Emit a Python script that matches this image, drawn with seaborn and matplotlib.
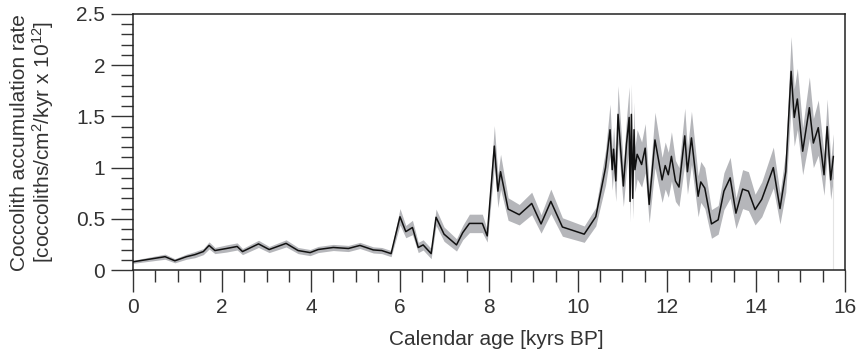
import numpy as np
import matplotlib
matplotlib.use("Agg")
import matplotlib.pyplot as plt
from matplotlib.ticker import MultipleLocator
import seaborn as sns

# Calendar age (kyrs BP) of each sample
age = [0.0, 0.72, 0.94, 1.2, 1.39, 1.58, 1.71, 1.84, 2.1, 2.34, 2.46, 2.82, 3.06,
       3.44, 3.71, 3.98, 4.16, 4.5, 4.84, 5.1, 5.4, 5.59, 5.8, 6.0, 6.13, 6.28,
       6.41, 6.52, 6.7, 6.81, 6.99, 7.27, 7.41, 7.56, 7.85, 7.96, 8.12, 8.2, 8.26,
       8.43, 8.68, 8.96, 9.17, 9.39, 9.65, 10.14, 10.4, 10.62, 10.72, 10.77, 10.8,
       10.85, 10.9, 11.02, 11.09, 11.15, 11.17, 11.2, 11.23, 11.26, 11.28, 11.33,
       11.43, 11.51, 11.6, 11.73, 11.89, 11.96, 12.03, 12.1, 12.19, 12.27, 12.4,
       12.46, 12.55, 12.7, 12.76, 12.85, 13.0, 13.15, 13.28, 13.42, 13.55, 13.7,
       13.83, 13.98, 14.13, 14.39, 14.54, 14.67, 14.79, 14.86, 14.93, 15.05, 15.2,
       15.29, 15.4, 15.53, 15.6, 15.68, 15.74]

# Coccolith accumulation rate (10^12 coccoliths/cm2/kyr)
rate = [0.08, 0.13, 0.09, 0.13, 0.15, 0.18, 0.24, 0.19, 0.21, 0.23, 0.18, 0.255, 0.20,
        0.26, 0.19, 0.17, 0.20, 0.22, 0.21, 0.24, 0.196, 0.19, 0.16, 0.52, 0.375, 0.415,
        0.22, 0.245, 0.16, 0.515, 0.35, 0.245, 0.365, 0.455, 0.455, 0.333, 1.21, 0.77, 0.96,
        0.595, 0.54, 0.65, 0.45, 0.67, 0.42, 0.35, 0.52, 1.0, 1.37, 0.98, 1.18,
        0.87, 1.52, 0.82, 1.23, 1.49, 0.67, 1.52, 0.70, 1.37, 0.98, 1.13,
        1.03, 1.19, 0.64, 1.27, 0.88, 1.02, 0.93, 1.11, 0.87, 0.81, 1.31,
        0.96, 1.29, 0.72, 0.86, 0.80, 0.45, 0.49, 0.77, 0.90, 0.555, 0.79,
        0.77, 0.59, 0.69, 1.0, 0.60, 0.96, 1.94, 1.49, 1.67, 1.16, 1.585,
        1.24, 1.39, 0.93, 1.40, 0.88, 1.11]

# Uncertainty (half-width of the shaded envelope)
err = [0.015, 0.025, 0.02, 0.025, 0.03, 0.03, 0.035, 0.03, 0.035, 0.035, 0.03, 0.035, 0.03,
       0.035, 0.03, 0.03, 0.03, 0.03, 0.03, 0.03, 0.03, 0.03, 0.03, 0.08, 0.06, 0.07,
       0.05, 0.05, 0.05, 0.08, 0.07, 0.06, 0.07, 0.09, 0.09, 0.06, 0.20, 0.16, 0.17,
       0.11, 0.10, 0.11, 0.09, 0.12, 0.09, 0.08, 0.09, 0.17, 0.25, 0.20, 0.22,
       0.20, 0.28, 0.20, 0.25, 0.30, 0.20, 0.30, 0.20, 0.27, 0.22, 0.24,
       0.22, 0.24, 0.18, 0.27, 0.22, 0.23, 0.22, 0.24, 0.20, 0.19, 0.27,
       0.22, 0.26, 0.20, 0.20, 0.20, 0.14, 0.14, 0.18, 0.20, 0.15, 0.19,
       0.19, 0.15, 0.17, 0.20, 0.15, 0.20, 0.34, 0.28, 0.30, 0.23, 0.30,
       0.24, 0.27, 0.20, 0.27, 0.19, 0.22]

x_ticks = [0, 2, 4, 6, 8, 10, 12, 14, 16]
y_ticks = [0, 0.5, 1, 1.5, 2, 2.5]
y_tick_labels = ["0", "0.5", "1", "1.5", "2", "2.5"]

sns.set_style("ticks")
plt.rcParams["font.family"] = ["Liberation Sans", "DejaVu Sans"]
plt.rcParams["mathtext.fontset"] = "custom"
plt.rcParams["mathtext.rm"] = "Liberation Sans"
plt.rcParams["mathtext.it"] = "Liberation Sans:italic"

TXT = "#333333"
fig = plt.figure(figsize=(8.56, 3.58), dpi=100)
ax = fig.add_axes([0.1554, 0.2458, 0.8317, 0.7151])

a = np.asarray(age)
r = np.asarray(rate)
e = np.asarray(err)
ax.fill_between(a, r - e, r + e, color="#b5b6ba", linewidth=0, zorder=1)
ax.vlines(a[-1], 0, r[-1] - e[-1], color="#e4e4e4", linewidth=0.8, zorder=1)
sns.lineplot(x=age, y=rate, color="#111111", linewidth=1.1, ax=ax, zorder=3,
             estimator=None, sort=False)

ax.set_xlim(0, 16)
ax.set_ylim(0, 2.5)
ax.set_xticks(x_ticks)
ax.set_xticklabels([str(t) for t in x_ticks])
ax.set_yticks(y_ticks)
ax.set_yticklabels(y_tick_labels)
ax.xaxis.set_minor_locator(MultipleLocator(0.5))
ax.yaxis.set_minor_locator(MultipleLocator(0.1))

for s in ax.spines.values():
    s.set_visible(True)
    s.set_linewidth(1.1)
    s.set_color("#222222")

ax.tick_params(which="major", direction="out", length=16, width=1.0,
               color="#333333", labelsize=15, labelcolor=TXT, pad=4)
ax.tick_params(which="minor", direction="out", length=8.5, width=1.0,
               color="#333333")

ax.set_xlabel("Calendar age [kyrs BP]", fontsize=15, color=TXT)
ax.xaxis.set_label_coords(0.51, -0.235)
ax.set_ylabel("")
fig.text(0.0385, 0.603,
         "Coccolith accumulation rate\n[coccoliths/cm$^{2}$/kyr x 10$^{12}$]",
         rotation=90, ha="center", va="center", fontsize=15, color=TXT,
         linespacing=1.05, multialignment="center")

fig.savefig("out.png", dpi=100)
